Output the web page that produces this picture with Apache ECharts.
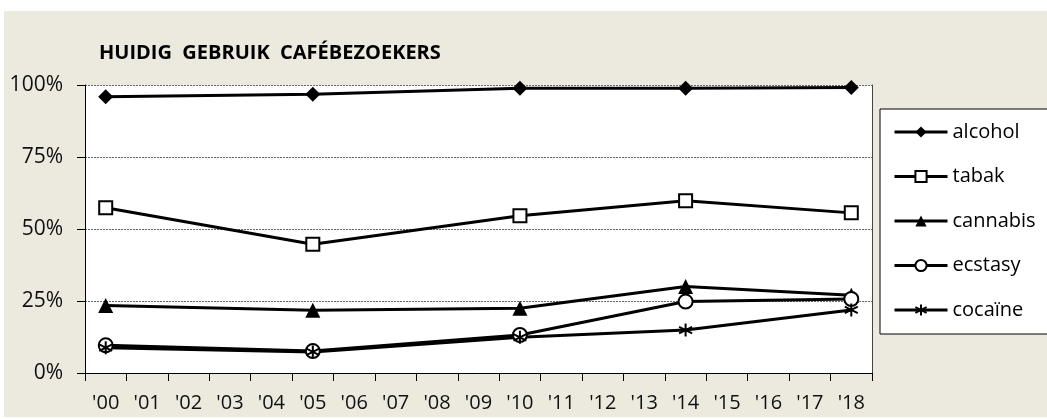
<!DOCTYPE html>
<html>
<head>
<meta charset="utf-8">
<script src="https://cdn.jsdelivr.net/npm/echarts@6/dist/echarts.min.js"></script>
<style>
  html, body { margin: 0; padding: 0; background: #fff; }
  #chart { width: 1047px; height: 419px; }
</style>
</head>
<body>
<div id="chart"></div>
<script>
'use strict';

var years = ["'00", "'01", "'02", "'03", "'04", "'05", "'06", "'07", "'08", "'09",
  "'10", "'11", "'12", "'13", "'14", "'15", "'16", "'17", "'18"];
var yTicks = [0, 25, 50, 75, 100];

// survey years only, other years empty
var alcohol = [95.9, null, null, null, null, 96.8, null, null, null, null, 98.9, null, null, null, 98.9, null, null, null, 99.1];
var tabak = [57.4, null, null, null, null, 44.7, null, null, null, null, 54.6, null, null, null, 59.8, null, null, null, 55.6];
var cannabis = [23.4, null, null, null, null, 21.8, null, null, null, null, 22.5, null, null, null, 30.0, null, null, null, 27.0];
var ecstasy = [9.6, null, null, null, null, 7.6, null, null, null, null, 13.2, null, null, null, 24.8, null, null, null, 25.7];
var cocaine = [8.8, null, null, null, null, 7.3, null, null, null, null, 12.4, null, null, null, 14.9, null, null, null, 21.9];

var font = '"Open Sans", "Noto Sans", sans-serif';
var asterisk = 'path://M5,0L5,10M0.7,2.5L9.3,7.5M0.7,7.5L9.3,2.5';

function mkSeries(name, data, symbol, size, fill, bw) {
  return {
    name: name,
    type: 'line',
    data: data,
    connectNulls: true,
    symbol: symbol,
    symbolSize: size,
    lineStyle: { color: '#000', width: 3 },
    itemStyle: { color: fill, borderColor: '#000', borderWidth: bw },
    emphasis: { disabled: true },
    z: 3
  };
}

var myChart = echarts.init(document.getElementById('chart'));
var option = {
  animation: false,
  backgroundColor: 'transparent',
  textStyle: { fontFamily: font },
  graphic: [{
    type: 'rect',
    z: -10,
    shape: { x: 4, y: 11, width: 1043, height: 406 },
    style: { fill: '#ece9df' }
  }],
  title: {
    text: 'HUIDIG  GEBRUIK  CAFÉBEZOEKERS',
    left: 94,
    top: 38,
    textStyle: { fontFamily: font, fontSize: 20, fontWeight: 'bold', color: '#000' }
  },
  grid: {
    left: 85, top: 85, width: 787, height: 288,
    show: true, backgroundColor: '#fff', borderWidth: 0
  },
  legend: {
    orient: 'vertical',
    left: 880,
    top: 109,
    padding: [13, 20, 14, 13],
    backgroundColor: '#fff',
    borderColor: '#000',
    borderWidth: 1,
    itemWidth: 53,
    itemHeight: 14,
    itemGap: 24.5,
    selectedMode: false,
    lineStyle: { width: 3 },
    textStyle: { fontFamily: font, fontSize: 20, color: '#000', lineHeight: 20 },
    data: ['alcohol', 'tabak', 'cannabis', 'ecstasy', 'cocaïne']
  },
  xAxis: {
    type: 'category',
    data: years,
    boundaryGap: true,
    axisLine: { lineStyle: { color: '#000', width: 1 } },
    axisTick: { show: true, length: 8, interval: 0, lineStyle: { color: '#000' } },
    axisLabel: { interval: 0, margin: 20, fontSize: 20, color: '#111', fontFamily: font },
    splitLine: { show: false }
  },
  yAxis: [{
    type: 'value',
    min: 0,
    max: 100,
    interval: 25,
    axisLine: { show: true, lineStyle: { color: '#000', width: 1 } },
    axisTick: { show: true, length: 8, lineStyle: { color: '#000' } },
    axisLabel: {
      margin: 22, fontSize: 21, color: '#111', fontFamily: font,
      formatter: function (v) { return yTicks.indexOf(v) >= 0 ? v + '%' : ''; }
    },
    splitLine: { show: true, lineStyle: { color: '#666', width: 1, type: [2, 1] } }
  }, {
    type: 'value',
    position: 'right',
    min: 0,
    max: 100,
    interval: 25,
    axisLine: { show: true, lineStyle: { color: '#444', width: 1 } },
    axisTick: { show: false },
    axisLabel: { show: false },
    splitLine: { show: false }
  }],
  series: [
    mkSeries('alcohol', alcohol, 'diamond', 15, '#000', 0),
    mkSeries('tabak', tabak, 'rect', 13, '#fff', 2),
    mkSeries('cannabis', cannabis, 'triangle', 15, '#000', 0),
    mkSeries('ecstasy', ecstasy, 'circle', 14, '#fff', 2),
    mkSeries('cocaïne', cocaine, asterisk, 13, 'none', 2)
  ]
};
myChart.setOption(option);
</script>
</body>
</html>
